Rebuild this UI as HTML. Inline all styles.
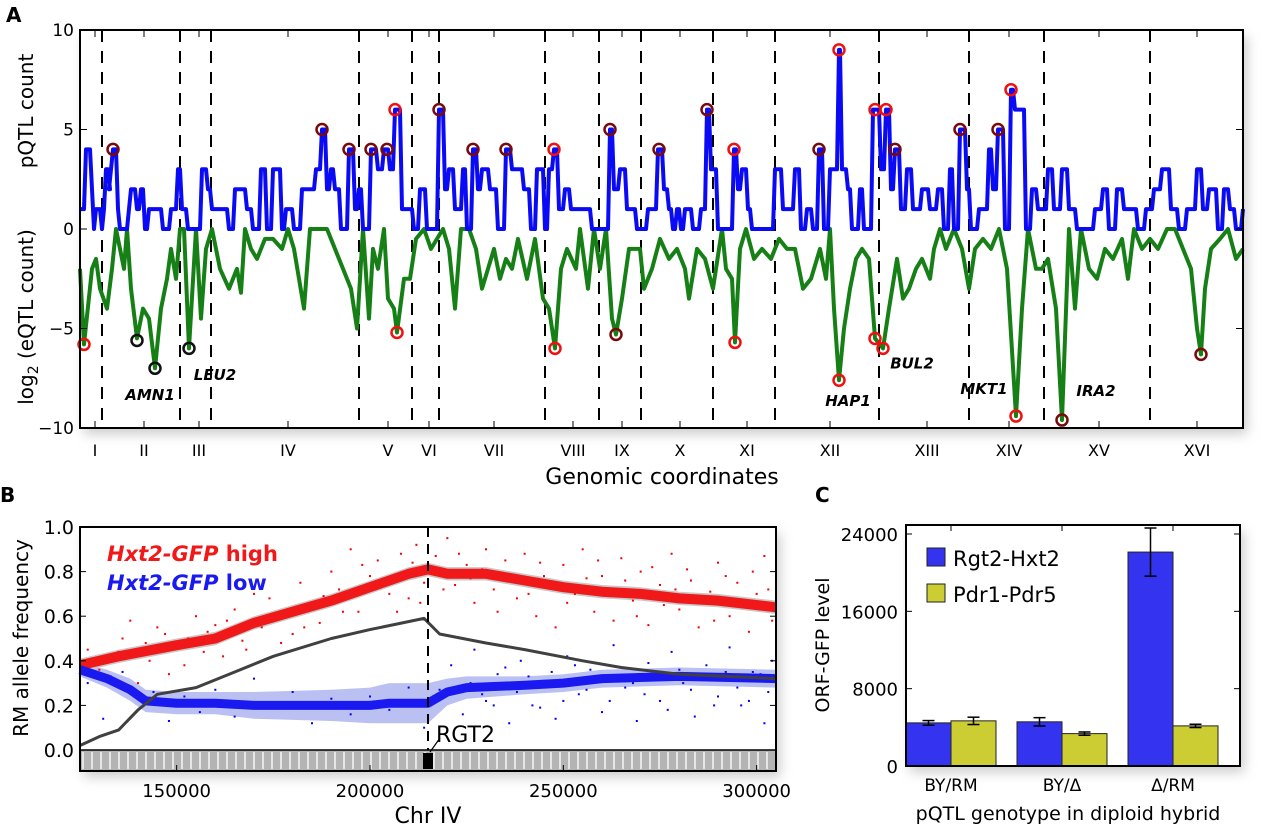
<!DOCTYPE html>
<html><head><meta charset="utf-8"><style>
body{margin:0;background:#fff}
svg{display:block;font-family:"DejaVu Sans","Liberation Sans",sans-serif}
</style></head><body>
<svg id="fig" width="1280" height="827" viewBox="0 0 1280 827" xmlns="http://www.w3.org/2000/svg">
<defs>
<filter id="sh" x="-5%" y="-5%" width="115%" height="120%"><feGaussianBlur stdDeviation="6"/></filter>
</defs>
<text x="6" y="22" font-size="20" font-weight="bold">A</text>
<text x="0" y="502" font-size="20" font-weight="bold">B</text>
<text x="815" y="502" font-size="20" font-weight="bold">C</text>
<g id="pa"></g>
<g id="pb"></g>
<g id="pc"></g>
</svg>
<script>
// ===== Panel A data =====
const pqtlPos=[80,86,92,94,96,102,104,106,110,111,113,118,120,127,129,131,135,137,141,145,149,159,163,171,178,182,188,196,202,208,212,220,229,235,245,247,253,261,267,273,282,286,294,302,310,316,322,327,331,335,341,349,355,359,363,371,378,384,387,390,395,400,402,408,414,420,427,433,439,445,449,455,463,467,473,478,482,490,498,506,512,518,524,531,537,545,549,554,559,565,571,580,588,592,604,610,614,620,627,637,640,648,658,664,669,673,677,681,685,693,701,707,711,718,728,734,738,742,748,752,771,775,783,795,801,807,813,819,824,830,834,839,842,848,852,860,864,873,875,881,886,891,895,901,907,913,922,930,938,944,950,954,960,967,971,979,989,993,998,1005,1011,1015,1020,1026,1032,1038,1048,1054,1062,1069,1077,1089,1095,1103,1109,1117,1124,1130,1138,1146,1154,1162,1171,1179,1187,1197,1203,1209,1218,1224,1230,1236,1243];
const pqtlCount=[1,4,2,0,1,0,1,3,2,3,4,1,0,0,1,2,2,1,2,0,1,1,0,1,3,1,0,0,3,2,1,1,0,2,2,1,0,3,0,3,0,1,0,2,2,3,5,2,3,2,0,4,1,2,0,4,3,4,4,3,6,6,1,1,0,2,0,0,6,2,3,1,3,0,4,2,3,2,0,4,3,3,2,0,3,0,3,4,1,2,1,1,1,0,0,5,2,3,1,0,0,1,4,2,1,0,1,0,1,0,1,6,3,0,0,4,2,3,1,0,0,3,1,3,0,1,0,4,0,3,3,9,3,2,0,2,0,6,6,3,6,2,4,1,3,1,2,1,2,0,3,0,5,2,0,1,4,2,5,0,7,6,6,0,2,1,3,1,3,1,0,0,1,2,0,2,1,1,0,1,2,3,1,0,1,3,1,2,0,2,1,0,1];
const eqtlPos=[80,84,92,96,100,107,112,116,120,124,127,131,137,143,149,155,161,167,171,176,180,184,189,196,201,206,212,220,229,237,241,245,251,257,265,273,282,288,294,304,310,327,335,343,351,357,363,369,373,378,384,388,394,397,404,410,416,424,431,437,443,449,455,461,469,476,482,488,494,500,506,512,518,527,535,543,549,555,561,567,576,580,588,594,600,606,612,616,622,629,640,644,652,660,669,677,685,689,697,705,713,722,726,732,735,740,746,754,762,771,779,787,795,803,811,820,826,830,834,839,844,850,856,862,869,875,883,889,897,903,909,916,922,930,934,940,946,954,962,969,975,983,991,999,1007,1016,1022,1028,1036,1042,1048,1056,1062,1069,1075,1081,1089,1097,1105,1113,1122,1128,1134,1142,1150,1158,1167,1175,1183,1191,1197,1201,1205,1211,1220,1228,1236,1243];
const eqtlLog=[-2,-5.8,-2,-1.5,-3,-4,-2,0,-1,-2,0,-3,-5.5,-4,-4.5,-7,-4,-2.5,-1,-2.5,0,0,-6,0,-4.5,-1,0,-2,-3,-2,-3.2,0,-1,-1.5,-0.5,-0.5,-1,0,-1,-4,0,0,-1,-2,-3,-5,0,-4.5,-1,-2,0,-3.5,-4,-5.2,-2.5,-2.5,-0.5,0,-1,-0.5,0,-1,-4,0,0,-1,-3,-2,-1,-2.5,-1.5,-2,-0.5,-2.5,-0.5,-3.5,-4,-6,-2,-1,-2,0,-3,0,-2,0,-4.5,-5.3,-3.5,-1,-1,-3,-2,-0.5,-1.5,-1,-2,-3.5,-1,-1.5,-3,0,-2,-2.5,-5.7,-1,0,-1.5,-1,-1.5,-0.5,-1,-1,-3,-2.5,-1,-2.5,0,-4,-7.6,-5,-3,-1.5,-1,-1.5,-5.5,-6,-4,-1.5,-3.5,-3,-2,-1.5,-2.5,-1,0,-1,0,-1,-3,-1,-0.5,-1,0,-2,-9.4,-4,0,-2,-2,-1.5,-4,-9.6,0,-4,0,-2,-2.5,-1,-1.5,-0.5,-2.5,0,-1,-0.5,-1,0,0,-1,-2,-5,-6.3,-3,-1,-0.5,0,-1.5,-1];
const circPos=[113,322,349,371,387,395,439,473,506,554,610,659,707,734,819,839,875,886,895,960,998,1011,84,137,155,189,397,555,616,735,839,875,883,1016,1062,1201];
const circVal=[4,5,4,4,4,6,6,4,4,4,5,4,6,4,4,9,6,6,4,5,5,7,-5.8,-5.6,-7,-6,-5.2,-6,-5.3,-5.7,-7.6,-5.5,-6,-9.4,-9.6,-6.3];
const circKind=["d","d","d","d","d","r","d","d","d","r","d","d","d","r","d","r","r","r","d","d","d","r","r","k","k","k","r","r","d","r","r","r","r","r","d","d"];
const chrBounds=[102,180,211,359,412,439,545,599,641,713,775,879,969,1044,1150];
const chrNames=["I","II","III","IV","V","VI","VII","VIII","IX","X","XI","XII","XIII","XIV","XV","XVI"];
const chrCenters=[95,144,199,288,388,429,494,573,622,680,747,830,927,1009,1099,1197];
const aTicks=[10,5,0,-5,-10];
const aTickLabels=["10","5","0","\u22125","\u221210"];
const geneNames=["AMN1","LEU2","HAP1","BUL2","MKT1","IRA2"];
const genePos=[150,215,848,912,984,1096];
const geneVal=[-8.6,-7.6,-8.9,-7.0,-8.3,-8.4];

// ===== Panel B data =====
const highKb=[125,135,150,160,170,180,190,200,210,215,220,230,240,250,260,270,280,290,305];
const highFreq=[0.38,0.42,0.47,0.5,0.57,0.62,0.67,0.73,0.79,0.81,0.79,0.79,0.76,0.73,0.71,0.7,0.68,0.67,0.64];
const lowKb=[125,132,138,142,150,160,170,190,200,205,215,220,225,240,250,260,280,305];
const lowFreq=[0.36,0.32,0.27,0.22,0.21,0.21,0.2,0.2,0.2,0.21,0.21,0.26,0.28,0.29,0.3,0.32,0.33,0.32];
const lowBand=[0.03,0.04,0.05,0.05,0.05,0.05,0.06,0.07,0.08,0.09,0.09,0.06,0.05,0.04,0.04,0.04,0.04,0.04];
const diffKb=[125,130,135,140,145,155,165,175,190,200,214,218,230,240,255,265,280,305];
const diffFreq=[0.02,0.06,0.09,0.18,0.25,0.28,0.35,0.42,0.5,0.54,0.59,0.52,0.48,0.45,0.4,0.37,0.34,0.32];
const redDots=[[127,0.45],[130,0.36],[133,0.33],[135,0.44],[138,0.58],[140,0.3],[142,0.48],[145,0.55],[147,0.52],[148,0.34],[150,0.47],[152,0.38],[155,0.6],[157,0.44],[160,0.56],[162,0.42],[165,0.63],[167,0.49],[170,0.7],[172,0.55],[174,0.68],[177,0.48],[180,0.52],[182,0.75],[185,0.64],[187,0.57],[190,0.8],[192,0.72],[195,0.9],[197,0.62],[200,0.78],[202,0.85],[205,0.7],[208,0.88],[210,0.68],[212,0.92],[214,0.75],[217,0.87],[220,0.95],[222,0.74],[225,0.83],[227,0.66],[230,0.9],[232,0.72],[235,0.85],[238,0.68],[240,0.88],[243,0.6],[245,0.78],[248,0.55],[250,0.83],[253,0.7],[255,0.9],[258,0.62],[260,0.78],[263,0.58],[265,0.86],[268,0.67],[270,0.8],[272,0.56],[275,0.74],[278,0.88],[280,0.63],[283,0.76],[285,0.55],[288,0.71],[290,0.84],[293,0.6],[295,0.75],[298,0.53],[300,0.7],[302,0.87],[304,0.58],
[128,0.41],[136,0.5],[143,0.4],[153,0.5],[158,0.53],[163,0.58],[168,0.45],[176,0.6],[183,0.55],[188,0.69],[193,0.62],[198,0.83],[203,0.76],[207,0.62],[211,0.84],[213,0.66],[216,0.79],[219,0.72],[223,0.88],[226,0.77],[229,0.81],[233,0.62],[236,0.76],[241,0.7],[244,0.84],[247,0.73],[251,0.66],[256,0.77],[259,0.85],[262,0.69],[266,0.76],[269,0.6],[273,0.82],[276,0.65],[279,0.72],[282,0.81],[286,0.66],[289,0.58],[292,0.78],[296,0.66],[299,0.8],[303,0.72]];
const blueDots=[[127,0.3],[131,0.14],[136,0.35],[140,0.18],[144,0.26],[148,0.13],[152,0.24],[156,0.17],[160,0.27],[165,0.15],[170,0.32],[175,0.19],[180,0.26],[185,0.12],[190,0.23],[195,0.16],[200,0.24],[205,0.18],[210,0.28],[214,0.1],[218,0.27],[221,0.38],[224,0.16],[227,0.45],[230,0.22],[233,0.34],[236,0.12],[239,0.4],[242,0.2],[245,0.31],[248,0.14],[251,0.42],[254,0.25],[257,0.36],[260,0.17],[263,0.47],[266,0.28],[269,0.13],[272,0.39],[275,0.22],[278,0.44],[281,0.3],[284,0.15],[287,0.38],[290,0.24],[293,0.46],[296,0.2],[299,0.35],[302,0.12],[304,0.4],
[226,0.3],[229,0.25],[232,0.2],[235,0.37],[238,0.26],[241,0.33],[244,0.19],[247,0.35],[250,0.22],[253,0.38],[256,0.27],[259,0.31],[262,0.22],[265,0.37],[268,0.3],[271,0.25],[274,0.33],[277,0.18],[280,0.36],[283,0.27],[286,0.32],[289,0.2],[292,0.35],[295,0.28],[298,0.22],[301,0.34],[303,0.26]];
const bYTicks=[0,0.2,0.4,0.6,0.8,1.0];
const bYLabels=["0.0","0.2","0.4","0.6","0.8","1.0"];
const bXTicks=[150000,200000,250000,300000];
const bXLabels=["150000","200000","250000","300000"];
const rgt2Kb=215;

// ===== Panel C data =====
const genotypes=["BY/RM","BY/\u0394","\u0394/RM"];
const rgtVals=[4460,4570,22130];
const rgtErr=[240,430,2490];
const pdrVals=[4670,3350,4150];
const pdrErr=[380,170,170];
const cTicks=[0,8000,16000,24000];
const cTickLabels=["0","8000","16000","24000"];

const NS="http://www.w3.org/2000/svg";
function mk(parent,tag,attrs,text){const e=document.createElementNS(NS,tag);for(const k in attrs)e.setAttribute(k,attrs[k]);if(text!==undefined)e.textContent=text;parent.appendChild(e);return e;}

// ---------- Panel A ----------
(function(){
const g=document.getElementById('pa');
const L=80,R=1243,T=30,B=428;
const xA=p=>L+(p-80)/(1243-80)*(R-L);
const yA=v=>229-v*(B-T)/20;
let e=mk(g,'rect',{x:L+4,y:T+6,width:R-L,height:B-T,fill:'#999',opacity:0.5,filter:'url(#sh)'});

e=mk(g,'rect',{x:L,y:T,width:R-L,height:B-T,fill:'#fff'});

chrBounds.forEach(b=>{const l=mk(g,'line',{x1:xA(b),x2:xA(b),y1:T,y2:B,stroke:'#000','stroke-width':2,'stroke-dasharray':'12,9'});
});
chrCenters.forEach(c=>{mk(g,'line',{x1:xA(c),x2:xA(c),y1:T,y2:T+7,stroke:'#000','stroke-width':1});mk(g,'line',{x1:xA(c),x2:xA(c),y1:B,y2:B-7,stroke:'#000','stroke-width':1});});
let d=eqtlPos.map((p,i)=>(i?'L':'M')+xA(p).toFixed(1)+','+yA(eqtlLog[i]).toFixed(1)).join('');
e=mk(g,'path',{d:d,fill:'none',stroke:'#168016','stroke-width':4,'stroke-linejoin':'round'});

d='';
pqtlPos.forEach((p,i)=>{const x=xA(p).toFixed(1),y=yA(pqtlCount[i]).toFixed(1);
 if(!i){d+='M'+x+','+y;}else{const xm=(xA(p)-2).toFixed(1);d+='L'+xm+','+yA(pqtlCount[i-1]).toFixed(1)+'L'+x+','+y;}});
e=mk(g,'path',{d:d,fill:'none',stroke:'#0a0af5','stroke-width':4,'stroke-linejoin':'round'});

const col={d:'#7a0a0a',r:'#f01010',k:'#111'};
circPos.forEach((p,i)=>{const c=mk(g,'circle',{cx:xA(p),cy:yA(circVal[i]),r:5.5,fill:'none',stroke:col[circKind[i]],'stroke-width':2.5});
});
geneNames.forEach((n,i)=>{const t=mk(g,'text',{x:xA(genePos[i]),y:yA(geneVal[i]),'font-size':15,'font-weight':'bold','font-style':'italic','text-anchor':'middle'},n);
});
e=mk(g,'rect',{x:L,y:T,width:R-L,height:B-T,fill:'none',stroke:'#000','stroke-width':2});

aTicks.forEach((v,i)=>{mk(g,'line',{x1:L,x2:L+7,y1:yA(v),y2:yA(v),stroke:'#000'});mk(g,'line',{x1:R,x2:R-7,y1:yA(v),y2:yA(v),stroke:'#000'});
const t=mk(g,'text',{x:L-6,y:yA(v)+6,'font-size':17,'text-anchor':'end'},aTickLabels[i]);
});
chrNames.forEach((n,i)=>{const t=mk(g,'text',{x:xA(chrCenters[i]),y:456,'font-size':16,'text-anchor':'middle'},n);
});
e=mk(g,'text',{x:662,y:484,'font-size':22,'text-anchor':'middle'},'Genomic coordinates');

e=mk(g,'text',{x:0,y:0,'font-size':20,'text-anchor':'middle',transform:'translate(33,111) rotate(-90)'},'pQTL count');

e=mk(g,'text',{x:0,y:0,'font-size':20,'text-anchor':'middle',transform:'translate(33,317) rotate(-90)'});

e.innerHTML='log<tspan font-size="14" dy="5">2</tspan><tspan dy="-5"> (eQTL count)</tspan>';
})();

// ---------- Panel B ----------
(function(){
const g=document.getElementById('pb');
const L=80,R=776,T=527,B=750,SB=771;
const xB=kb=>L+(kb-125)/(305-125)*(R-L);
const yB=f=>B-f*(B-T);
let e=mk(g,'rect',{x:L+4,y:T+6,width:R-L,height:SB-T,fill:'#999',opacity:0.5,filter:'url(#sh)'});

e=mk(g,'rect',{x:L,y:T,width:R-L,height:SB-T,fill:'#fff'});

let up=lowKb.map((k,i)=>xB(k).toFixed(1)+','+yB(lowFreq[i]+lowBand[i]).toFixed(1));
let dn=lowKb.map((k,i)=>xB(k).toFixed(1)+','+yB(lowFreq[i]-lowBand[i]).toFixed(1)).reverse();
e=mk(g,'polygon',{points:up.concat(dn).join(' '),fill:'#aab0f0',opacity:0.8});

up=highKb.map((k,i)=>xB(k).toFixed(1)+','+yB(highFreq[i]+0.03).toFixed(1));
dn=highKb.map((k,i)=>xB(k).toFixed(1)+','+yB(highFreq[i]-0.03).toFixed(1)).reverse();
e=mk(g,'polygon',{points:up.concat(dn).join(' '),fill:'#c8c8c8'});

redDots.forEach(p=>{const c=mk(g,'rect',{x:xB(p[0])-1,y:yB(p[1])-1,width:2,height:2,fill:'#e00'});
});
blueDots.forEach(p=>{const c=mk(g,'rect',{x:xB(p[0])-1,y:yB(p[1])-1,width:2,height:2,fill:'#00e'});
});
const line=(ks,vs,stroke,w,name)=>{const p=mk(g,'polyline',{points:ks.map((k,i)=>xB(k).toFixed(1)+','+yB(vs[i]).toFixed(1)).join(' '),fill:'none',stroke:stroke,'stroke-width':w,'stroke-linejoin':'round'});
};
line(highKb,highFreq,'#f01818',10,'high-pool-line');
line(lowKb,lowFreq,'#1a1af0',9,'low-pool-line');
line(diffKb,diffFreq,'#404040',3,'difference-line');
e=mk(g,'line',{x1:xB(rgt2Kb),x2:xB(rgt2Kb),y1:T,y2:B,stroke:'#000','stroke-width':2,'stroke-dasharray':'10,7'});

e=mk(g,'rect',{x:L,y:B,width:R-L,height:SB-B,fill:'#b4b4b4'});

for(let x=L+3;x<R;x+=9){mk(g,'line',{x1:x,x2:x,y1:B+2,y2:SB-2,stroke:'#fff','stroke-width':1.5,opacity:0.9});}
e=mk(g,'rect',{x:xB(rgt2Kb)-5,y:B+3,width:10,height:SB-B-5,fill:'#000'});

mk(g,'line',{x1:xB(rgt2Kb)+2,y1:B+2,x2:xB(rgt2Kb)+12,y2:B-12,stroke:'#000','stroke-width':1.2});
e=mk(g,'text',{x:xB(rgt2Kb)+8,y:B-8,'font-size':22},'RGT2');

mk(g,'line',{x1:L,x2:R,y1:B,y2:B,stroke:'#000','stroke-width':1.5});
e=mk(g,'rect',{x:L,y:T,width:R-L,height:SB-T,fill:'none',stroke:'#000','stroke-width':2});

bYTicks.forEach((v,i)=>{mk(g,'line',{x1:L,x2:L+6,y1:yB(v),y2:yB(v),stroke:'#000'});mk(g,'line',{x1:R,x2:R-6,y1:yB(v),y2:yB(v),stroke:'#000'});
const t=mk(g,'text',{x:L-6,y:yB(v)+7,'font-size':19,'text-anchor':'end'},bYLabels[i]);
});
bXTicks.forEach((v,i)=>{const x=xB(v/1000);mk(g,'line',{x1:x,x2:x,y1:SB,y2:SB-6,stroke:'#000'});
const t=mk(g,'text',{x:x,y:797,'font-size':18,'text-anchor':'middle'},bXLabels[i]);
});
e=mk(g,'text',{x:428,y:823,'font-size':22,'text-anchor':'middle'},'Chr IV');

e=mk(g,'text',{x:0,y:0,'font-size':20,'text-anchor':'middle',transform:'translate(28,638) rotate(-90)'},'RM allele frequency');

e=mk(g,'text',{x:107,y:561,'font-size':21,fill:'#f01818','font-weight':'bold'});

e.innerHTML='<tspan font-style="italic">Hxt2-GFP</tspan> high';
e=mk(g,'text',{x:107,y:590,'font-size':21,fill:'#1a1af0','font-weight':'bold'});

e.innerHTML='<tspan font-style="italic">Hxt2-GFP</tspan> low';
})();

// ---------- Panel C ----------
(function(){
const g=document.getElementById('pc');
const L=906,R=1240,T=525,B=766;
const yC=v=>B-v/24000*(B-534);
const cx=i=>951+i*111;
const bw=45;
let e=mk(g,'rect',{x:L+4,y:T+6,width:R-L,height:B-T,fill:'#999',opacity:0.5,filter:'url(#sh)'});

e=mk(g,'rect',{x:L,y:T,width:R-L,height:B-T,fill:'#fff'});

genotypes.forEach((gn,i)=>{
 let b=mk(g,'rect',{x:cx(i)-bw,y:yC(rgtVals[i]),width:bw,height:B-yC(rgtVals[i]),fill:'#3434f0',stroke:'#222','stroke-width':1});
 
 b=mk(g,'rect',{x:cx(i),y:yC(pdrVals[i]),width:bw,height:B-yC(pdrVals[i]),fill:'#cccc33',stroke:'#222','stroke-width':1});
 
 [[cx(i)-bw/2,rgtVals[i],rgtErr[i]],[cx(i)+bw/2,pdrVals[i],pdrErr[i]]].forEach(q=>{
  const eg=mk(g,'g',{stroke:'#000','stroke-width':1.5});
  
  mk(eg,'line',{x1:q[0],x2:q[0],y1:yC(q[1]+q[2]),y2:yC(q[1]-q[2])});
  mk(eg,'line',{x1:q[0]-6,x2:q[0]+6,y1:yC(q[1]+q[2]),y2:yC(q[1]+q[2])});
  mk(eg,'line',{x1:q[0]-6,x2:q[0]+6,y1:yC(q[1]-q[2]),y2:yC(q[1]-q[2])});
 });
 mk(g,'line',{x1:cx(i),x2:cx(i),y1:T,y2:T+6,stroke:'#000'});
 const t=mk(g,'text',{x:cx(i),y:791,'font-size':17,'text-anchor':'middle'},gn);
 
});
e=mk(g,'rect',{x:L,y:T,width:R-L,height:B-T,fill:'none',stroke:'#000','stroke-width':2});

cTicks.forEach((v,i)=>{mk(g,'line',{x1:L,x2:L+6,y1:yC(v),y2:yC(v),stroke:'#000'});mk(g,'line',{x1:R,x2:R-6,y1:yC(v),y2:yC(v),stroke:'#000'});
const t=mk(g,'text',{x:L-8,y:yC(v)+7,'font-size':18,'text-anchor':'end'},cTickLabels[i]);
});
e=mk(g,'rect',{x:927,y:548,width:18,height:18,fill:'#3434f0',stroke:'#222'});

e=mk(g,'text',{x:953,y:566,'font-size':21},'Rgt2-Hxt2');

e=mk(g,'rect',{x:927,y:584,width:18,height:18,fill:'#cccc33',stroke:'#222'});

e=mk(g,'text',{x:953,y:602,'font-size':21},'Pdr1-Pdr5');

e=mk(g,'text',{x:1068,y:820,'font-size':19,'text-anchor':'middle'},'pQTL genotype in diploid hybrid');

e=mk(g,'text',{x:0,y:0,'font-size':19,'text-anchor':'middle',transform:'translate(829,645) rotate(-90)'},'ORF-GFP level');

})();
</script>
</body></html>
